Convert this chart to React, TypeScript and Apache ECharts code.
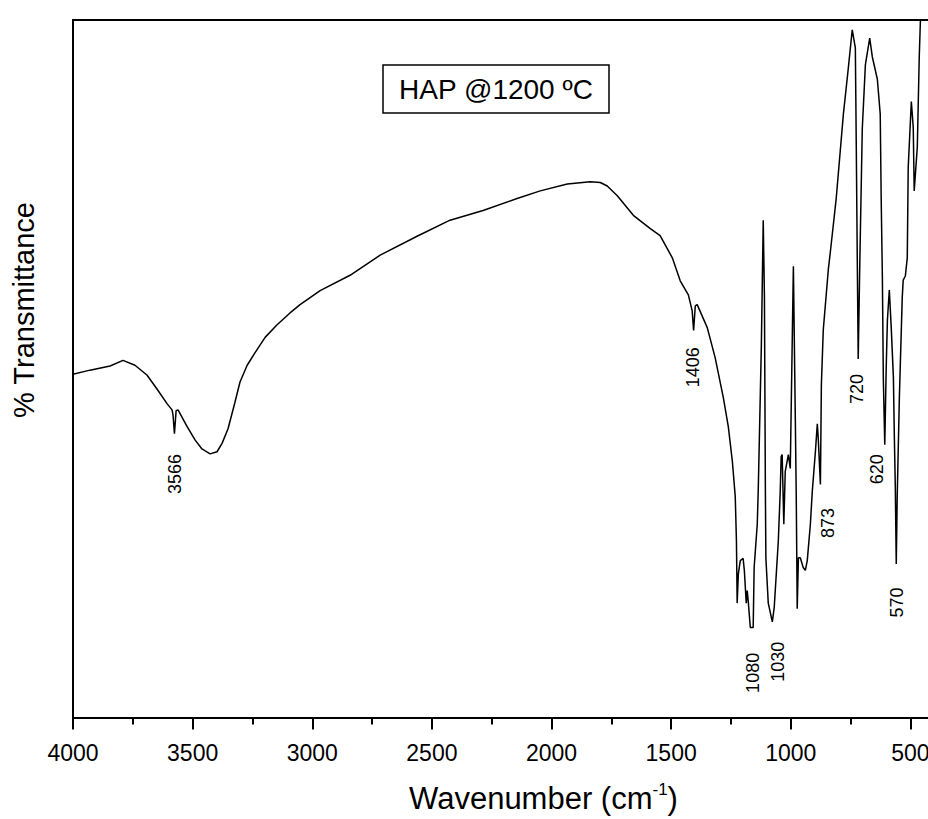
import React, { useEffect, useRef } from "react";
import * as echarts from "echarts";

const FONT = '"Liberation Sans", Arial, Helvetica, sans-serif';

// Spectrum (wavenumber in cm-1, % transmittance on an arbitrary 0-100 scale)
const wavenumber = [
  4000, 3929, 3845, 3791, 3741, 3691, 3649, 3607, 3586, 3582,
  3576, 3569, 3561, 3523, 3490, 3461, 3427, 3398, 3377, 3352,
  3323, 3302, 3272, 3239, 3197, 3147, 3093, 3051, 2967, 2842,
  2716, 2562, 2424, 2286, 2144, 2047, 1934, 1838, 1796, 1767,
  1725, 1658, 1587, 1546, 1495, 1462, 1428, 1412, 1406, 1399,
  1391, 1349, 1316, 1282, 1261, 1244, 1232, 1227, 1224, 1219,
  1211, 1199, 1194, 1186, 1182, 1178, 1169, 1157, 1153, 1140,
  1136, 1123, 1115, 1110, 1106, 1104, 1094, 1077, 1069, 1052,
  1044, 1040, 1036, 1029, 1023, 1010, 1002, 989, 981, 977,
  973, 968, 960, 948, 939, 931, 918, 910, 897, 889,
  885, 876, 872, 864, 843, 835, 810, 780, 760, 743,
  730, 726, 722, 718, 711, 701, 688, 670, 659, 638,
  626, 622, 617, 613, 607, 601, 596, 588, 580, 571,
  567, 563, 559, 555, 546, 534, 530, 521, 513, 509,
  496, 488, 484, 471, 463, 458,
];

const transmittance = [
  49.2, 49.8, 50.4, 51.2, 50.5, 49.1, 47.1, 45.0, 44.1, 43.4,
  40.7, 44.0, 44.1, 41.7, 39.8, 38.5, 37.8, 38.1, 39.3, 41.4,
  45.2, 48.1, 50.5, 52.3, 54.5, 56.3, 58.0, 59.2, 61.2, 63.4,
  66.3, 69.0, 71.3, 72.7, 74.4, 75.5, 76.5, 76.8, 76.7, 76.2,
  74.8, 72.0, 70.1, 69.1, 65.9, 62.6, 60.6, 58.3, 55.5, 59.0,
  59.2, 55.9, 51.6, 45.9, 41.7, 36.7, 31.7, 25.3, 16.4, 20.6,
  22.5, 22.8, 21.1, 16.4, 18.2, 16.8, 12.9, 12.9, 21.5, 27.7,
  32.4, 53.1, 71.3, 60.2, 32.4, 22.9, 16.4, 13.7, 15.8, 25.3,
  32.4, 37.4, 37.7, 27.7, 35.3, 37.7, 35.7, 64.7, 43.1, 31.7,
  15.6, 22.9, 22.9, 21.5, 21.1, 22.5, 27.7, 32.4, 38.1, 42.1,
  40.0, 33.4, 47.7, 55.6, 64.2, 66.6, 74.4, 86.5, 92.9, 98.6,
  96.0, 81.5, 65.9, 51.4, 65.9, 84.4, 93.6, 97.4, 94.7, 91.5,
  86.5, 74.4, 63.0, 48.5, 39.1, 50.2, 57.0, 61.3, 55.9, 48.8,
  40.3, 33.1, 22.0, 31.7, 45.9, 60.2, 62.7, 63.3, 65.9, 78.9,
  88.3, 84.6, 75.5, 81.8, 94.6, 100,
];

// Peak annotations (label text and where the label sits, in data coordinates)
const peakNames = ["3566", "1406", "1080", "1030", "873", "720", "620", "570"];
const peakLabelWn = [3574, 1408, 1157, 1052, 843, 722, 638, 555];
const peakLabelT = [34.9, 50.2, 6.4, 8.0, 27.9, 47.1, 35.6, 16.5];

const sampleLabel = "HAP @1200 ºC";
const yTitle = "% Transmittance";

export default function App() {
  const ref = useRef<HTMLDivElement>(null);

  useEffect(() => {
    if (!ref.current) return;
    const chart = echarts.init(ref.current, undefined, { renderer: "svg" });
    const data = wavenumber.map((w, i) => [w, transmittance[i]]);
    const peaks = peakNames.map((n, i) => ({
      name: n,
      coord: [peakLabelWn[i], peakLabelT[i]],
    }));
    const axisLine = { show: true, onZero: false, lineStyle: { color: "#000", width: 2 } };

    chart.setOption({
      animation: false,
      backgroundColor: "#fff",
      grid: { left: 73, right: 0, top: 20, bottom: 96 },
      xAxis: [
        {
          type: "value",
          min: 0,
          max: 4000,
          interval: 500,
          inverse: true,
          position: "bottom",
          axisLine,
          axisTick: { show: true, inside: false, length: 12, lineStyle: { color: "#000", width: 2 } },
          minorTick: { show: true, splitNumber: 2, length: 7, lineStyle: { color: "#000", width: 2 } },
          axisLabel: {
            color: "#000",
            fontSize: 23,
            fontFamily: FONT,
            margin: 24,
            showMinLabel: false,
            formatter: (v: number) => String(v),
          },
          splitLine: { show: false },
          minorSplitLine: { show: false },
          name: "{a|Wavenumber (cm}{s|-1}{a|)}",
          nameLocation: "middle",
          nameGap: 63,
          nameTextStyle: {
            padding: [0, 16, 0, 0],
            rich: {
              a: { fontSize: 31, fontFamily: FONT, color: "#000", lineHeight: 36 },
              s: { fontSize: 17, fontFamily: FONT, color: "#000", verticalAlign: "top", lineHeight: 36 },
            },
          },
        },
        {
          type: "value",
          min: 0,
          max: 4000,
          interval: 500,
          inverse: true,
          position: "top",
          axisLine,
          axisTick: { show: false },
          axisLabel: { show: false },
          splitLine: { show: false },
        },
      ],
      yAxis: {
        type: "value",
        min: 0,
        max: 100,
        axisLine,
        axisTick: { show: false },
        axisLabel: { show: false },
        splitLine: { show: false },
      },
      series: [
        {
          type: "line",
          data,
          symbol: "none",
          showSymbol: false,
          lineStyle: { color: "#000", width: 1.5 },
          markPoint: {
            symbol: "circle",
            symbolSize: 0,
            data: peaks,
            label: {
              show: true,
              position: "inside",
              rotate: 90,
              color: "#000",
              fontSize: 18,
              fontFamily: FONT,
              formatter: "{b}",
            },
          },
        },
      ],
      graphic: [
        {
          type: "rect",
          x: 383,
          y: 65,
          shape: { x: 0, y: 0, width: 226, height: 48 },
          style: { fill: "#fff", stroke: "#000", lineWidth: 1.5 },
          z: 100,
        },
        {
          type: "text",
          x: 496,
          y: 89,
          z: 101,
          style: {
            text: sampleLabel,
            font: `28px ${FONT}`,
            fill: "#000",
            align: "center",
            verticalAlign: "middle",
            textAlign: "center",
            textVerticalAlign: "middle",
          },
        },
        {
          type: "text",
          x: 24,
          y: 310,
          rotation: Math.PI / 2,
          style: {
            text: yTitle,
            font: `29px ${FONT}`,
            fill: "#000",
            align: "center",
            verticalAlign: "middle",
            textAlign: "center",
            textVerticalAlign: "middle",
          },
        },
      ],
    });

    return () => chart.dispose();
  }, []);

  return (
    <div
      style={{
        position: "fixed",
        left: 0,
        top: 0,
        width: 928,
        height: 819,
        overflow: "hidden",
        background: "#fff",
      }}
    >
      <div ref={ref} style={{ width: 1030, height: 819 }} />
    </div>
  );
}
